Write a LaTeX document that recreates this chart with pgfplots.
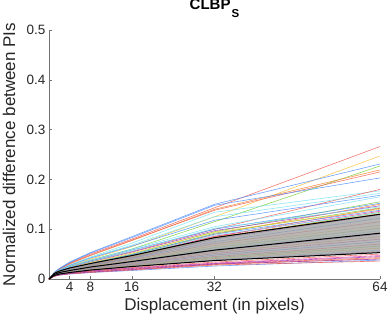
\documentclass[border=0pt]{standalone}
\usepackage{pgfplots}
\pgfplotsset{compat=1.18}
\usepackage{fontspec}
\setmainfont{Liberation Sans}
\definecolor{cB}{rgb}{0.30,0.55,1.00}
\definecolor{cR}{rgb}{0.95,0.35,0.30}
\definecolor{cY}{rgb}{0.98,0.75,0.20}
\definecolor{cG}{rgb}{0.45,0.80,0.20}
\definecolor{cC}{rgb}{0.45,0.88,0.95}
\definecolor{cP}{rgb}{0.60,0.20,0.75}
\definecolor{cO}{rgb}{0.95,0.50,0.15}
\definecolor{cM}{rgb}{0.90,0.20,0.60}
\definecolor{axgray}{rgb}{0.45,0.45,0.45}
\begin{document}
\begin{tikzpicture}
\begin{axis}[
  at={(49pt,42pt)}, anchor=south west,
  scale only axis, width=331pt, height=249pt,
  xmin=0, xmax=64, ymin=0, ymax=0.5,
  axis x line*=bottom, axis y line*=left,
  axis line style={axgray, line width=0.5pt},
  tick style={axgray, line width=0.5pt},
  tick align=inside, major tick length=3.5pt,
  xtick={4,8,16,32,64},
  ytick={0,0.1,0.2,0.3,0.4,0.5},
  yticklabel style={/pgf/number format/fixed,/pgf/number format/precision=1},
  /pgf/number format/assume math mode=true,
  ticklabel style={font=\fontsize{13.5}{14}\selectfont, text=black!85},
  xlabel={Displacement (in pixels)},
  ylabel={Normalized difference between PIs},
  label style={font=\fontsize{17}{18}\selectfont, text=black!85},
  xlabel style={at={(axis description cs:0.5,-0.1245)}, anchor=base},
  ylabel style={at={(axis description cs:-0.1027,0.5)}, anchor=base},
  title={CLBP\hspace{1pt}\raisebox{-8pt}{\fontsize{11.5}{12}\selectfont S}},
  title style={font=\bfseries\fontsize{15}{16}\selectfont, at={(axis description cs:0.5,1.058)}, anchor=base, yshift=0pt},
  every axis plot/.append style={line width=0.6pt, draw opacity=0.8},
]
% --- individual curves (d = 0,1,2,4,8,16,32,64)
\addplot[cR] coordinates {(0,0)(1,0.012)(2,0.020)(4,0.032)(8,0.050)(16,0.080)(32,0.143)(64,0.266)};
\addplot[cY] coordinates {(0,0)(1,0.010)(2,0.017)(4,0.026)(8,0.040)(16,0.065)(32,0.125)(64,0.247)};
\addplot[cB] coordinates {(0,0)(1,0.013)(2,0.021)(4,0.034)(8,0.053)(16,0.085)(32,0.150)(64,0.231)};
\addplot[cG] coordinates {(0,0)(1,0.010)(2,0.016)(4,0.025)(8,0.038)(16,0.060)(32,0.115)(64,0.227)};
\addplot[cO] coordinates {(0,0)(1,0.012)(2,0.019)(4,0.030)(8,0.047)(16,0.077)(32,0.140)(64,0.219)};
\addplot[cR] coordinates {(0,0)(1,0.012)(2,0.019)(4,0.031)(8,0.048)(16,0.078)(32,0.138)(64,0.215)};
\addplot[cB] coordinates {(0,0)(1,0.013)(2,0.021)(4,0.033)(8,0.052)(16,0.083)(32,0.148)(64,0.203)};
\addplot[cC] coordinates {(0,0)(1,0.011)(2,0.018)(4,0.028)(8,0.044)(16,0.072)(32,0.134)(64,0.177)};
\addplot[cR] coordinates {(0,0)(1,0.010)(2,0.016)(4,0.024)(8,0.036)(16,0.055)(32,0.100)(64,0.180)};
\addplot[cC] coordinates {(0,0)(1,0.011)(2,0.018)(4,0.028)(8,0.043)(16,0.068)(32,0.125)(64,0.172)};
\addplot[cB] coordinates {(0,0)(1,0.011)(2,0.017)(4,0.027)(8,0.042)(16,0.066)(32,0.118)(64,0.168)};
\addplot[cC] coordinates {(0,0)(1,0.010)(2,0.016)(4,0.025)(8,0.038)(16,0.060)(32,0.105)(64,0.165)};
\addplot[cG] coordinates {(0,0)(1,0.010)(2,0.015)(4,0.022)(8,0.032)(16,0.050)(32,0.095)(64,0.155)};
\addplot[cB] coordinates {(0,0)(1,0.010)(2,0.016)(4,0.024)(8,0.036)(16,0.058)(32,0.100)(64,0.152)};
\addplot[cO] coordinates {(0,0)(1,0.009)(2,0.014)(4,0.021)(8,0.030)(16,0.046)(32,0.090)(64,0.150)};
\addplot[cP] coordinates {(0,0)(1,0.010)(2,0.015)(4,0.023)(8,0.034)(16,0.054)(32,0.097)(64,0.147)};
\addplot[cC] coordinates {(0,0)(1,0.010)(2,0.016)(4,0.024)(8,0.035)(16,0.056)(32,0.102)(64,0.145)};
\addplot[cG] coordinates {(0,0)(1,0.009)(2,0.014)(4,0.021)(8,0.031)(16,0.048)(32,0.092)(64,0.143)};
\addplot[cR] coordinates {(0,0)(1,0.009)(2,0.014)(4,0.020)(8,0.029)(16,0.045)(32,0.085)(64,0.142)};
\addplot[cY] coordinates {(0,0)(1,0.010)(2,0.015)(4,0.022)(8,0.033)(16,0.052)(32,0.094)(64,0.140)};
\addplot[cB] coordinates {(0,0)(1,0.009)(2,0.014)(4,0.021)(8,0.031)(16,0.049)(32,0.090)(64,0.138)};
\addplot[cM] coordinates {(0,0)(1,0.009)(2,0.014)(4,0.020)(8,0.029)(16,0.046)(32,0.086)(64,0.136)};
\addplot[cG] coordinates {(0,0)(1,0.009)(2,0.013)(4,0.019)(8,0.028)(16,0.043)(32,0.082)(64,0.134)};
\addplot[cC] coordinates {(0,0)(1,0.009)(2,0.014)(4,0.020)(8,0.030)(16,0.047)(32,0.088)(64,0.133)};
\addplot[cO] coordinates {(0,0)(1,0.009)(2,0.013)(4,0.019)(8,0.028)(16,0.044)(32,0.084)(64,0.131)};
\addplot[cP] coordinates {(0,0)(1,0.008)(2,0.013)(4,0.019)(8,0.027)(16,0.042)(32,0.080)(64,0.129)};
\addplot[cB] coordinates {(0,0)(1,0.009)(2,0.013)(4,0.019)(8,0.027)(16,0.041)(32,0.075)(64,0.122)};
\addplot[cR] coordinates {(0,0)(1,0.008)(2,0.012)(4,0.018)(8,0.026)(16,0.039)(32,0.071)(64,0.115)};
\addplot[cY] coordinates {(0,0)(1,0.009)(2,0.013)(4,0.018)(8,0.025)(16,0.037)(32,0.067)(64,0.108)};
\addplot[cG] coordinates {(0,0)(1,0.008)(2,0.012)(4,0.017)(8,0.024)(16,0.035)(32,0.063)(64,0.102)};
\addplot[cC] coordinates {(0,0)(1,0.008)(2,0.012)(4,0.017)(8,0.024)(16,0.034)(32,0.060)(64,0.097)};
\addplot[cP] coordinates {(0,0)(1,0.008)(2,0.012)(4,0.016)(8,0.023)(16,0.033)(32,0.057)(64,0.090)};
\addplot[cO] coordinates {(0,0)(1,0.008)(2,0.011)(4,0.016)(8,0.022)(16,0.031)(32,0.054)(64,0.085)};
\addplot[cM] coordinates {(0,0)(1,0.007)(2,0.011)(4,0.015)(8,0.021)(16,0.030)(32,0.051)(64,0.080)};
\addplot[cB] coordinates {(0,0)(1,0.007)(2,0.011)(4,0.015)(8,0.021)(16,0.029)(32,0.048)(64,0.075)};
\addplot[cR] coordinates {(0,0)(1,0.007)(2,0.010)(4,0.014)(8,0.020)(16,0.028)(32,0.045)(64,0.070)};
\addplot[cG] coordinates {(0,0)(1,0.007)(2,0.010)(4,0.014)(8,0.019)(16,0.027)(32,0.043)(64,0.066)};
\addplot[cY] coordinates {(0,0)(1,0.007)(2,0.010)(4,0.014)(8,0.019)(16,0.026)(32,0.041)(64,0.062)};
\addplot[cC] coordinates {(0,0)(1,0.007)(2,0.010)(4,0.013)(8,0.018)(16,0.025)(32,0.039)(64,0.058)};
\addplot[cP] coordinates {(0,0)(1,0.007)(2,0.010)(4,0.013)(8,0.018)(16,0.025)(32,0.038)(64,0.055)};
\addplot[cR] coordinates {(0,0)(1,0.007)(2,0.010)(4,0.013)(8,0.017)(16,0.023)(32,0.034)(64,0.050)};
\addplot[cM] coordinates {(0,0)(1,0.007)(2,0.009)(4,0.012)(8,0.016)(16,0.022)(32,0.032)(64,0.047)};
\addplot[cP] coordinates {(0,0)(1,0.006)(2,0.009)(4,0.012)(8,0.016)(16,0.021)(32,0.031)(64,0.045)};
\addplot[cR] coordinates {(0,0)(1,0.006)(2,0.009)(4,0.011)(8,0.015)(16,0.020)(32,0.030)(64,0.043)};
\addplot[cO] coordinates {(0,0)(1,0.006)(2,0.008)(4,0.011)(8,0.014)(16,0.019)(32,0.029)(64,0.041)};
\addplot[cB] coordinates {(0,0)(1,0.006)(2,0.008)(4,0.010)(8,0.013)(16,0.017)(32,0.026)(64,0.038)};
\addplot[cR] coordinates {(0,0)(1,0.005)(2,0.008)(4,0.010)(8,0.013)(16,0.018)(32,0.028)(64,0.036)};
\addplot[cP] coordinates {(0,0)(1,0.006)(2,0.008)(4,0.011)(8,0.014)(16,0.019)(32,0.030)(64,0.040)};
% --- shaded band between mean +/- std
\addplot[draw=none, fill=gray!75, fill opacity=0.75] coordinates {(0,0)(1,0.011)(2,0.016)(4,0.022)(8,0.031)(16,0.047)(32,0.083)(64,0.130)(64,0.053)(32,0.037)(16,0.025)(8,0.018)(4,0.013)(2,0.010)(1,0.007)(0,0)} -- cycle;
% --- mean and mean +/- std
\addplot[black, line width=1pt, draw opacity=1] coordinates {(0,0)(1,0.011)(2,0.016)(4,0.022)(8,0.031)(16,0.047)(32,0.083)(64,0.130)};
\addplot[black, line width=1pt, draw opacity=1] coordinates {(0,0)(1,0.009)(2,0.013)(4,0.017)(8,0.024)(16,0.035)(32,0.058)(64,0.092)};
\addplot[black, line width=1pt, draw opacity=1] coordinates {(0,0)(1,0.007)(2,0.010)(4,0.013)(8,0.018)(16,0.025)(32,0.037)(64,0.053)};
\end{axis}
\pgfresetboundingbox
\path[use as bounding box] (0,0) rectangle (390pt,321pt);
\end{tikzpicture}
\end{document}
